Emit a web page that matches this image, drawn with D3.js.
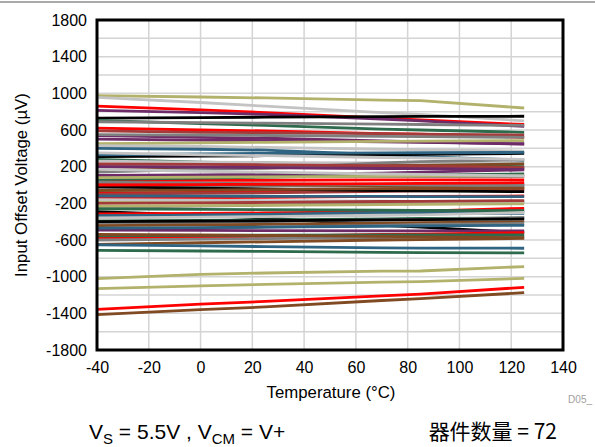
<!DOCTYPE html>
<html><head><meta charset="utf-8">
<script src="https://cdn.jsdelivr.net/npm/d3@7"></script>
<style>
html,body{margin:0;padding:0;background:#fff;}
svg{display:block;font-family:"Liberation Sans",Arial,sans-serif;}
</style></head>
<body>
<svg id="chart" width="595" height="447"></svg>
<script>
// Temperatures (°C) at which each unit was measured
const temps = [-40, 0, 25, 70, 85, 125];
const xTicks = [-40, -20, 0, 20, 40, 60, 80, 100, 120, 140];
const yTicks = [1800, 1400, 1000, 600, 200, -200, -600, -1000, -1400, -1800];

// Colour of each unit's trace
const seriesColors = [
 "olive","lightgrey","red","purple","black","green","grey","red","darkred","purple",
 "purple","olive","lightgrey","teal","black","green","lightgrey","darkred","brown","grey",
 "purple","purple","red","green","olive","teal","grey","lightgrey","red","darkred",
 "brown","black","red","olive","grey","teal","lightgrey","black","red","teal",
 "green","grey","brown","grey","purple","red","grey","brown","green","teal",
 "green","olive","olive","red","brown","teal","darkred","grey","lightgrey","teal",
 "brown","darkred","lightgrey","olive","purple","green","grey","brown","red","black",
 "lightgrey","teal"
];

// Input offset voltage (µV) of each unit at the temperatures above
const offsetValues = [
 [975, 960, 950, 925, 920, 840],
 [955, 900, 860, 790, 770, 700],
 [860, 820, 790, 730, 710, 660],
 [815, 790, 770, 720, 700, 640],
 [730, 735, 740, 745, 748, 750],
 [705, 670, 650, 610, 600, 575],
 [690, 680, 675, 665, 660, 650],
 [620, 600, 590, 560, 555, 520],
 [590, 575, 570, 560, 555, 545],
 [540, 520, 510, 480, 470, 445],
 [500, 490, 485, 470, 465, 450],
 [450, 460, 465, 475, 478, 485],
 [430, 420, 410, 390, 385, 370],
 [400, 390, 380, 330, 310, 270],
 [310, 315, 320, 330, 335, 345],
 [280, 250, 240, 220, 215, 200],
 [260, 250, 245, 240, 238, 235],
 [200, 195, 190, 185, 185, 185],
 [160, 175, 185, 210, 215, 230],
 [140, 170, 185, 240, 255, 275],
 [105, 110, 115, 130, 140, 165],
 [90, 92, 93, 95, 95, 95],
 [47, 50, 52, 55, 55, 55],
 [60, 75, 85, 105, 110, 120],
 [80, 85, 88, 95, 97, 98],
 [-10, -8, -5, 0, 0, 0],
 [-30, -25, -20, -10, -5, 10],
 [-50, -45, -40, -30, -25, -20],
 [-90, -80, -70, -55, -50, -40],
 [-100, -90, -85, -70, -65, -54],
 [20, 10, 5, -10, -15, -29],
 [-20, -35, -45, -60, -65, -73],
 [-145, -140, -135, -125, -125, -120],
 [-182, -185, -187, -189, -189, -189],
 [-243, -230, -220, -200, -195, -180],
 [-120, -122, -123, -125, -126, -127],
 [-160, -165, -170, -175, -178, -180],
 [-291, -330, -360, -440, -460, -520],
 [-316, -310, -305, -290, -285, -254],
 [-335, -330, -325, -315, -312, -309],
 [-393, -385, -380, -370, -365, -360],
 [-418, -410, -400, -380, -375, -356],
 [-444, -435, -430, -415, -410, -400],
 [-480, -470, -460, -440, -430, -420],
 [-491, -495, -497, -500, -500, -502],
 [-582, -570, -560, -540, -535, -520],
 [-600, -590, -585, -575, -570, -560],
 [-647, -630, -620, -600, -595, -582],
 [-556, -550, -548, -545, -545, -545],
 [-654, -665, -672, -685, -688, -690],
 [-713, -720, -725, -735, -737, -740],
 [-1022, -975, -960, -940, -938, -890],
 [-1131, -1100, -1085, -1060, -1055, -1018],
 [-1356, -1300, -1270, -1210, -1190, -1116],
 [-1414, -1360, -1330, -1260, -1240, -1175],
 [-340, -330, -320, -300, -295, -285],
 [230, 225, 220, 210, 205, 190],
 [30, 20, 15, 5, 0, -10],
 [170, 150, 140, 120, 115, 100],
 [330, 340, 345, 350, 352, 355],
 [-60, -55, -50, -40, -38, -35],
 [-200, -195, -190, -180, -178, -170],
 [350, 330, 320, 300, 295, 280],
 [-230, -225, -222, -215, -212, -205],
 [200, 195, 190, 180, 178, 170],
 [-260, -265, -270, -275, -277, -280],
 [550, 545, 540, 530, 528, 520],
 [-540, -545, -550, -560, -565, -575],
 [0, 5, 10, 15, 18, 25],
 [-400, -395, -390, -380, -378, -370],
 [-360, -350, -345, -330, -325, -300],
 [-470, -465, -460, -450, -447, -440]
];

const palette = {
  red: "#ff0000", darkred: "#a33b3b", olive: "#b3b26c", grey: "#7f7f7f",
  lightgrey: "#c3c3c3", black: "#000000", teal: "#2f6582", green: "#2e6b4d",
  purple: "#6d2b68", brown: "#804a22"
};

const svg = d3.select("#chart");
const L = 97, R = 563, T = 20, B = 350;
const x = d3.scaleLinear().domain([-40, 140]).range([L, R]);
const y = d3.scaleLinear().domain([-1800, 1800]).range([B, T]);

// top rule
svg.append("line").attr("x1", 0).attr("x2", 595).attr("y1", 2).attr("y2", 2)
  .attr("stroke", "#555").attr("stroke-width", 1);

// grid
const grid = svg.append("g");
grid.selectAll("line.h").data(d3.range(-1600, 1800, 200)).join("line")
  .attr("x1", L).attr("x2", R).attr("y1", d => y(d)).attr("y2", d => y(d))
  .attr("stroke", "#d4d4d4").attr("stroke-width", 1.5);
grid.selectAll("line.v").data(xTicks.slice(1, -1)).join("line")
  .attr("y1", T).attr("y2", B).attr("x1", d => x(d)).attr("x2", d => x(d))
  .attr("stroke", "#d4d4d4").attr("stroke-width", 1.5);

// series
const line = d3.line().x((d, i) => x(temps[i])).y(d => y(d));
svg.append("defs").append("clipPath").attr("id", "clip")
  .append("rect").attr("x", L).attr("y", T).attr("width", R - L).attr("height", B - T);
svg.append("g").attr("clip-path", "url(#clip)")
  .selectAll("path").data(offsetValues).join("path")
  .attr("d", line).attr("fill", "none")
  .attr("stroke", (d, i) => palette[seriesColors[i]])
  .attr("stroke-width", 2.8).attr("stroke-linejoin", "round");

// frame
svg.append("rect").attr("x", L).attr("y", T).attr("width", R - L).attr("height", B - T)
  .attr("fill", "none").attr("stroke", "#000").attr("stroke-width", 3);

const fmt = d => String(d);
// axes
const xAxis = d3.axisBottom(x).tickValues(xTicks).tickSize(0).tickPadding(12).tickFormat(fmt);
const gx = svg.append("g").attr("transform", `translate(0,${B})`).call(xAxis);
gx.select(".domain").remove();
gx.selectAll("text").attr("font-size", 16).attr("fill", "#000")
  .attr("font-family", "Liberation Sans, Arial, sans-serif");

const yAxis = d3.axisLeft(y).tickValues(yTicks).tickSize(0).tickPadding(10).tickFormat(fmt);
const gy = svg.append("g").attr("transform", `translate(${L},0)`).call(yAxis);
gy.select(".domain").remove();
gy.selectAll("text").attr("font-size", 16).attr("fill", "#000")
  .attr("font-family", "Liberation Sans, Arial, sans-serif");

// axis titles
svg.append("text").attr("x", 331).attr("y", 398).attr("text-anchor", "middle")
  .attr("font-size", 16.8).text("Temperature (°C)");
svg.append("text").attr("transform", `translate(27,${(T + B) / 2}) rotate(-90)`)
  .attr("text-anchor", "middle").attr("font-size", 16.8).text("Input Offset Voltage (µV)");

svg.append("text").attr("x", 592).attr("y", 403).attr("text-anchor", "end")
  .attr("font-size", 10).attr("fill", "#a0a0a0").text("D05_");

// footnotes
const f1 = svg.append("text").attr("x", 89).attr("y", 439).attr("font-size", 21);
f1.append("tspan").text("V");
f1.append("tspan").attr("dy", 5).attr("font-size", 15).text("S");
f1.append("tspan").attr("dy", -5).text(" = 5.5V , V");
f1.append("tspan").attr("dy", 5).attr("font-size", 15).text("CM");
f1.append("tspan").attr("dy", -5).text(" = V+");

svg.append("text").attr("x", 557).attr("y", 439).attr("text-anchor", "end")
  .attr("font-size", 21).attr("font-family", "Noto Sans CJK SC, Liberation Sans, sans-serif")
  .text("器件数量 = 72");
</script>
</body></html>
